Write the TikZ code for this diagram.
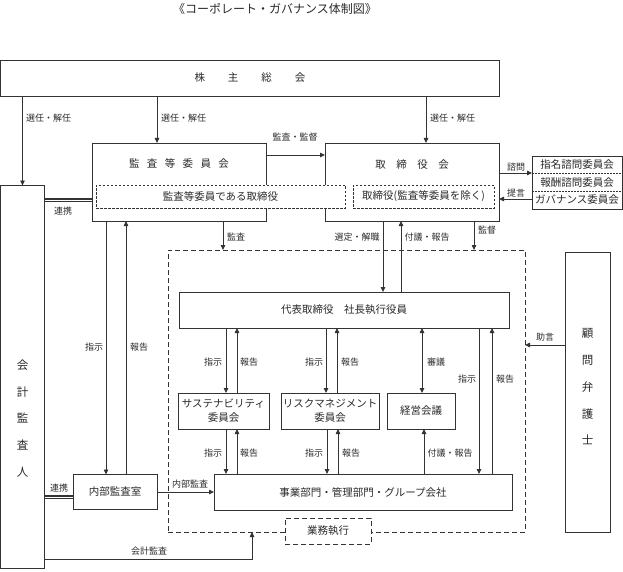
\documentclass[tikz,border=0pt]{standalone}
\usepackage{fontspec}
\setmainfont{Noto Sans CJK JP}
\usetikzlibrary{arrows.meta,calc}
\definecolor{ln}{HTML}{333333}
\definecolor{tx}{HTML}{2A2A2A}
\begin{document}
\begin{tikzpicture}[x=1pt,y=-1pt,
  every node/.style={text=tx, inner sep=0pt, outer sep=0pt},
  box/.style={draw=ln, line width=0.8pt, fill=white, rectangle},
  dbox/.style={draw=ln, line width=0.8pt, fill=white, dash pattern=on 2.5pt off 1.5pt},
  bigdash/.style={draw=ln, line width=0.8pt, dash pattern=on 5pt off 3pt},
  lab/.style={font=\fontsize{9}{10}\selectfont},
  btx/.style={font=\fontsize{10.5}{14}\selectfont},
  con/.style={draw=ln, line width=0.8pt},
  arr/.style={con, -{Triangle[length=5pt,width=4.5pt]}},
  darr/.style={con, {Triangle[length=5pt,width=4.5pt]}-{Triangle[length=5pt,width=4.5pt]}},
  dbl/.style={draw=ln, line width=1.2pt, double=white, double distance=1pt},
  sepline/.style={draw=ln, line width=0.7pt, dash pattern=on 1.5pt off 1.5pt}
]
\useasboundingbox (0,0) rectangle (623,572);

% helper coordinates
\foreach \xx in {106,126,157,223,226,237,252,326,327,337,338,383,401,422,424,426,474,479,492}
  {\coordinate (x\xx) at (\xx,0);}
\foreach \yy in {155,173,199,200,345,497,559}
  {\coordinate (y\yy) at (0,\yy);}

% title
\node[font=\fontsize{12}{14}\selectfont] (title) at (275,9) {《コーポレート・ガバナンス体制図》};

% shareholders
\node[box, minimum width=499pt, minimum height=36pt] (sh) at (250,78) {};
\node[btx] (shT) at (250,78) {株\hspace{23pt}主\hspace{23pt}総\hspace{23pt}会};

% audit committee & board
\node[box, minimum width=174pt, minimum height=78pt] (kansa) at (179,182) {};
\node[btx] (kansaT) at (179,163) {監\hspace{7.4pt}査\hspace{7.4pt}等\hspace{7.4pt}委\hspace{7.4pt}員\hspace{7.4pt}会};
\node[box, minimum width=174pt, minimum height=78pt] (tori) at (412,182) {};
\node[btx] (toriT) at (412,165) {取\hspace{10.5pt}締\hspace{10.5pt}役\hspace{10.5pt}会};
\node[dbox, btx, minimum width=249pt, minimum height=23pt] (kd) at (220.5,196.5) {監査等委員である取締役};
\node[dbox, btx, minimum width=141pt, minimum height=23pt] (td) at (423.5,196.5) {取締役(監査等委員を除く)};

% advisory committees
\node[box, minimum width=90pt, minimum height=53pt] (com) at (577,182.5) {};
\draw[sepline] ($(com.north west)!0.333!(com.south west)$) -- ($(com.north east)!0.333!(com.south east)$);
\draw[sepline] ($(com.north west)!0.667!(com.south west)$) -- ($(com.north east)!0.667!(com.south east)$);
\node[btx] (com1) at (577,165) {指名諮問委員会};
\node[btx] (com2) at (577,182.5) {報酬諮問委員会};
\node[btx] (com3) at (577,200) {ガバナンス委員会};

% accounting auditor
\node[box, minimum width=44pt, minimum height=383pt] (kaikei) at (22.5,377) {};
\node[font=\fontsize{11.5}{26.75}\selectfont, align=center] (kaikeiT) at (22.5,418.5) {会\\計\\監\\査\\人};

% legal advisor
\node[box, minimum width=45pt, minimum height=280pt] (komon) at (587.5,392) {};
\node[font=\fontsize{11.5}{26.75}\selectfont, align=center] (komonT) at (587.5,387) {顧\\問\\弁\\護\\士};

% execution area
\node[bigdash, minimum width=357pt, minimum height=282pt] (exec) at (346.5,391) {};
\node[box, btx, minimum width=330pt, minimum height=36pt] (daihyo) at (344,310) {代表取締役\hspace{10.5pt}社長執行役員};
\node[box, btx, align=center, minimum width=91pt, minimum height=36pt] (sus) at (223.5,411) {サステナビリティ\\委員会};
\node[box, btx, align=center, minimum width=98pt, minimum height=36pt] (risk) at (330,411) {リスクマネジメント\\委員会};
\node[box, btx, minimum width=68pt, minimum height=36pt] (keiei) at (421,411) {経営会議};
\node[box, btx, minimum width=298pt, minimum height=36pt] (jigyo) at (363,492) {事業部門・管理部門・グループ会社};
\node[box, btx, minimum width=84pt, minimum height=35pt] (naibu) at (115,492) {内部監査室};
\node[bigdash, fill=white, btx, minimum width=86pt, minimum height=26pt] (gyomu) at (328,531) {業務執行};

% connectors from shareholders
\draw[arr] (sh.south -| kaikei.north) -- (kaikei.north);
\node[lab, anchor=west] (l1) at (26,118) {選任・解任};
\draw[arr] (sh.south -| x157) -- (kansa.north -| x157);
\node[lab, anchor=west] (l2) at (161,118) {選任・解任};
\draw[arr] (sh.south -| x426) -- (tori.north -| x426);
\node[lab, anchor=west] (l3) at (430,118) {選任・解任};

% audit committee -> board
\draw[arr] (kansa.east |- y155) -- (tori.west |- y155);
\node[lab] (l4) at (295,137) {監査・監督};

% board <-> committees
\draw[arr] (tori.east |- y173) -- (com.west |- y173);
\node[lab] (l5) at (516,167) {諮問};
\draw[arr] (com.west |- y199) -- (tori.east |- y199);
\node[lab] (l6) at (516,193) {提言};

% cooperation with accounting auditor
\draw[dbl] (kaikei.east |- y200) -- (kansa.west |- y200);
\node[lab] (l7) at (63,211) {連携};
\draw[dbl] (kaikei.east |- y497) -- (naibu.west |- y497);
\node[lab] (l8) at (59,488) {連携};

% audit committee -> execution
\draw[arr] (kansa.south -| x223) -- (exec.north -| x223);
\node[lab, anchor=west] (l9) at (227,237) {監査};
\draw[arr] (kansa.south -| x106) -- (naibu.north -| x106);
\node[lab] (l10) at (94,347) {指示};
\draw[arr] (naibu.north -| x126) -- (kansa.south -| x126);
\node[lab] (l11) at (139,347) {報告};

% board <-> president
\draw[arr] (tori.south -| x383) -- (daihyo.north -| x383);
\node[lab] (l12) at (357,237) {選定・解職};
\draw[arr] (daihyo.north -| x401) -- (tori.south -| x401);
\node[lab] (l13) at (427,237) {付議・報告};
\draw[arr] (tori.south -| x474) -- (exec.north -| x474);
\node[lab] (l14) at (487,230) {監督};

% president <-> committees
\draw[arr] (daihyo.south -| x226) -- (sus.north -| x226);
\node[lab] (l15) at (213,362) {指示};
\draw[arr] (sus.north -| x237) -- (daihyo.south -| x237);
\node[lab] (l16) at (249,362) {報告};
\draw[arr] (daihyo.south -| x326) -- (risk.north -| x326);
\node[lab] (l17) at (314,362) {指示};
\draw[arr] (risk.north -| x337) -- (daihyo.south -| x337);
\node[lab] (l18) at (350,362) {報告};
\draw[darr] (daihyo.south -| x422) -- (keiei.north -| x422);
\node[lab] (l19) at (436,362) {審議};
\draw[arr] (daihyo.south -| x479) -- (jigyo.north -| x479);
\node[lab] (l20) at (467,379) {指示};
\draw[arr] (jigyo.north -| x492) -- (daihyo.south -| x492);
\node[lab] (l21) at (505,379) {報告};

% committees <-> business divisions
\draw[arr] (sus.south -| x226) -- (jigyo.north -| x226);
\node[lab] (l22) at (213,453) {指示};
\draw[arr] (jigyo.north -| x237) -- (sus.south -| x237);
\node[lab] (l23) at (249,453) {報告};
\draw[arr] (risk.south -| x327) -- (jigyo.north -| x327);
\node[lab] (l24) at (314,453) {指示};
\draw[arr] (jigyo.north -| x338) -- (risk.south -| x338);
\node[lab] (l25) at (351,453) {報告};
\draw[arr] (jigyo.north -| x424) -- (keiei.south -| x424);
\node[lab] (l26) at (450,453) {付議・報告};

% internal audit
\draw[arr] (naibu.east) -- (jigyo.west);
\node[lab] (l27) at (190,484) {内部監査};

% accounting audit
\draw[arr] (kaikei.east |- y559) -| (exec.south -| x252);
\node[lab] (l28) at (149,551) {会計監査};

% legal advice
\draw[arr] (komon.west |- y345) -- (exec.east |- y345);
\node[lab] (l29) at (545,337) {助言};
\end{tikzpicture}
\end{document}
